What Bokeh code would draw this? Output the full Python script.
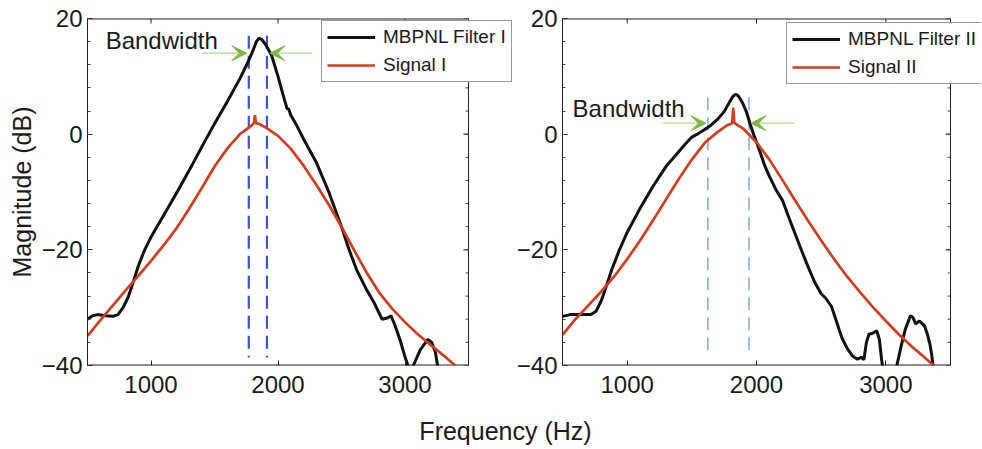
from bokeh.plotting import figure
from bokeh.layouts import column, row
from bokeh.models import Range1d, FixedTicker, Arrow, VeeHead, Label
from bokeh.embed import file_html
from bokeh.resources import INLINE

# ---------------- data ----------------
x_ticks = [1000, 2000, 3000]
y_ticks = [-40, -20, 0, 20]
y_minor = list(range(-40, 21, 4))
y_tick_labels = {-40: "\u221240", -20: "\u221220", 0: "0", 20: "20"}
x_lim = (500, 3500)
y_lim = (-40, 20)

# Left panel: MBPNL Filter I / Signal I
f1_freq = [500, 540, 580, 640, 700, 740, 780, 820, 860, 900, 950, 1000, 1100,
           1200, 1300, 1400, 1500, 1600, 1700, 1760, 1800, 1830, 1850, 1870,
           1900, 1950, 2000, 2040, 2070, 2085, 2100, 2150, 2200, 2300, 2400,
           2500, 2560, 2620, 2700, 2760, 2820, 2860, 2890, 2920, 2960, 3000,
           3030, 3060, 3120, 3180, 3210, 3240, 3260, 3280]
f1_mag = [-32.0, -31.4, -31.2, -31.4, -31.5, -31.2, -30.0, -28.2, -25.6, -22.8,
          -20.0, -17.8, -14.0, -10.2, -6.3, -2.2, 1.8, 5.6, 9.6, 12.3, 14.3,
          16.0, 16.6, 16.4, 15.6, 13.6, 10.0, 6.8, 4.5, 4.3, 3.3, 1.4, -0.8,
          -4.8, -10.0, -16.0, -20.0, -23.5, -27.0, -29.3, -32.0, -31.8, -31.4,
          -33.0, -35.5, -38.5, -40.5, -40.3, -37.3, -35.5, -36.0, -37.8, -40.5,
          -42.0]

s1_freq = [500, 600, 700, 800, 900, 1000, 1100, 1200, 1300, 1400, 1500, 1600,
           1700, 1780, 1810, 1818, 1826, 1850, 1900, 2000, 2100, 2200, 2300,
           2400, 2500, 2600, 2700, 2800, 2900, 3000, 3100, 3200, 3300, 3400]
s1_mag = [-34.9, -32.2, -29.6, -27.0, -24.5, -21.9, -19.2, -16.3, -12.9, -9.3,
          -5.6, -2.5, 0.0, 1.3, 1.9, 3.3, 1.9, 1.8, 1.2, -0.3, -2.5, -5.4, -8.7,
          -12.2, -16.0, -20.1, -24.0, -27.5, -30.2, -32.5, -34.6, -36.4, -38.2,
          -40.1]

# Right panel: MBPNL Filter II / Signal II
f2_freq = [500, 560, 640, 720, 760, 800, 840, 880, 940, 1000, 1100, 1200, 1300,
           1400, 1450, 1500, 1550, 1600, 1650, 1700, 1750, 1790, 1820, 1840,
           1860, 1890, 1920, 1950, 1980, 2020, 2060, 2080, 2100, 2150, 2200,
           2250, 2300, 2350, 2400, 2450, 2500, 2540, 2580, 2620, 2660, 2700,
           2740, 2780, 2810, 2830, 2850, 2870, 2900, 2930, 2950, 2970, 2990,
           3070, 3090, 3120, 3150, 3190, 3210, 3230, 3260, 3300, 3320, 3340,
           3355, 3370]
f2_mag = [-31.5, -31.2, -31.2, -31.2, -30.6, -28.8, -26.2, -23.5, -20.0, -17.0,
          -12.8, -9.0, -5.6, -3.0, -1.7, -0.5, 0.1, 0.8, 1.6, 2.6, 3.9, 5.5,
          6.6, 6.9, 6.6, 5.5, 4.0, 1.8, -0.2, -2.6, -5.2, -6.3, -7.3, -9.6,
          -11.4, -14.4, -17.3, -20.2, -23.0, -25.6, -27.6, -28.5, -29.8, -32.5,
          -35.2, -37.0, -38.3, -38.9, -38.6, -39.0, -36.0, -34.6, -34.4, -34.0,
          -35.5, -39.5, -42.0, -42.0, -39.5, -36.5, -33.8, -31.4, -31.7, -32.8,
          -32.3, -33.2, -34.5, -36.2, -38.2, -41.0]

s2_freq = [500, 600, 700, 800, 900, 1000, 1100, 1200, 1300, 1400, 1500, 1600,
           1700, 1770, 1812, 1820, 1828, 1850, 1900, 2000, 2100, 2200, 2300,
           2400, 2500, 2600, 2700, 2800, 2900, 3000, 3100, 3200, 3300, 3370]
s2_mag = [-34.7, -32.0, -29.6, -27.2, -24.6, -21.6, -18.4, -14.9, -11.3, -7.7,
          -4.4, -1.5, 0.4, 1.5, 1.9, 4.6, 2.0, 1.6, 0.9, -1.4, -4.4, -7.9,
          -11.5, -15.0, -18.4, -21.6, -24.6, -27.3, -29.9, -32.3, -34.6, -36.7,
          -38.6, -40.0]

# bandwidth markers
bw1_edges = [1770, 1913]
bw1_span = [17.0, -38.6]
bw1_arrow_level = 14.0
bw1_arrow_from = [1397, 2270]
bw1_arrow_tip = [1754, 1937]
bw1_text = (643, 16.2)

bw2_edges = [1624, 1942]
bw2_span = [6.4, -37.8]
bw2_arrow_level = 1.9
bw2_arrow_from = [1275, 2291]
bw2_arrow_tip = [1609, 1957]
bw2_text = (578, 4.5)

FONT = "Liberation Sans"
BLACK = "#111111"
RED = "#d43c1e"
TXT = "#1a1a1a"
EDGE = "#222222"


def make_panel(width, height, mb_left, mb_top, mb_bottom, box_w, box_h,
               f_freq, f_mag, s_freq, s_mag, f_label, s_label,
               edges, span, dash_color, dash_width, arrow_level, arrow_from,
               arrow_tip, text_pos, legend_loc, ylabel=None):
    # the frame reaches the right edge of the figure so that the legend
    # may overhang the axes box, as in the original; the box itself is
    # the x_lim / y_lim rectangle, box_w pixels wide.
    frame_w = width - mb_left
    x_end = x_lim[0] + (x_lim[1] - x_lim[0]) * frame_w / box_w
    px_x = (x_lim[1] - x_lim[0]) / box_w        # Hz per pixel
    px_y = (y_lim[1] - y_lim[0]) / box_h        # dB per pixel

    p = figure(width=width, height=height, x_range=Range1d(x_lim[0], x_end),
               y_range=Range1d(*y_lim), output_backend="svg",
               toolbar_location=None, min_border_left=mb_left,
               min_border_right=0, min_border_top=mb_top,
               min_border_bottom=mb_bottom)
    p.grid.visible = False
    p.outline_line_color = None
    p.background_fill_color = "white"
    p.border_fill_color = "white"

    for ax in (p.xaxis[0], p.yaxis[0]):
        ax.major_label_text_font = FONT
        ax.major_label_text_font_size = "24px"
        ax.major_label_text_color = TXT
        ax.major_tick_line_color = EDGE
        ax.major_tick_in = 5
        ax.major_tick_out = 0
        ax.minor_tick_out = 0
    p.xaxis[0].axis_line_color = None
    p.yaxis[0].axis_line_color = EDGE
    p.xaxis[0].ticker = FixedTicker(ticks=x_ticks)
    p.xaxis[0].major_label_standoff = 10
    p.yaxis[0].ticker = FixedTicker(ticks=y_ticks, minor_ticks=y_minor)
    p.yaxis[0].minor_tick_in = 3
    p.yaxis[0].minor_tick_line_color = "#444444"
    p.yaxis[0].major_label_overrides = y_tick_labels
    p.yaxis[0].major_label_standoff = 5
    if ylabel:
        p.yaxis[0].axis_label = ylabel
        p.yaxis[0].axis_label_text_font = FONT
        p.yaxis[0].axis_label_text_font_size = "25px"
        p.yaxis[0].axis_label_text_font_style = "normal"
        p.yaxis[0].axis_label_text_color = TXT
        p.yaxis[0].axis_label_standoff = 3

    # axes box: top, bottom (on the frame edge) and right side
    p.segment(x0=[x_lim[0], x_lim[0]], y0=[y_lim[1], y_lim[0]],
              x1=[x_lim[1], x_lim[1]], y1=[y_lim[1], y_lim[0]],
              line_color=EDGE, line_width=2)
    p.segment(x0=[x_lim[1]], y0=[y_lim[0]], x1=[x_lim[1]], y1=[y_lim[1]],
              line_color=EDGE, line_width=1)
    # mirrored ticks on top and right
    p.segment(x0=x_ticks, y0=[y_lim[1]] * len(x_ticks), x1=x_ticks,
              y1=[y_lim[1] - 5 * px_y] * len(x_ticks), line_color=EDGE,
              line_width=1)
    p.segment(x0=[x_lim[1]] * len(y_ticks), y0=y_ticks,
              x1=[x_lim[1] - 5 * px_x] * len(y_ticks), y1=y_ticks,
              line_color=EDGE, line_width=1)
    p.segment(x0=[x_lim[1]] * len(y_minor), y0=y_minor,
              x1=[x_lim[1] - 3 * px_x] * len(y_minor), y1=y_minor,
              line_color="#444444", line_width=1)

    # bandwidth dashed lines
    p.segment(x0=edges, y0=[span[0]] * 2, x1=edges, y1=[span[1]] * 2,
              line_color=dash_color, line_width=dash_width, line_dash="13 7")

    p.line(f_freq, f_mag, line_color=BLACK, line_width=3,
           legend_label=f_label)
    p.line(s_freq, s_mag, line_color=RED, line_width=2.7,
           legend_label=s_label)

    for a0, a1 in zip(arrow_from, arrow_tip):
        p.add_layout(Arrow(x_start=a0, y_start=arrow_level, x_end=a1,
                           y_end=arrow_level, line_color="#a9dc86",
                           line_width=1.2,
                           end=VeeHead(size=15, fill_color="#7db843",
                                       line_color="#7db843", line_width=1)))

    p.add_layout(Label(x=text_pos[0], y=text_pos[1], text="Bandwidth",
                       text_font=FONT, text_font_size="24px",
                       text_color=TXT, text_baseline="middle",
                       text_align="left"))

    lg = p.legend[0]
    lg.location = legend_loc
    lg.label_text_font = FONT
    lg.label_text_font_size = "19px"
    lg.label_text_color = TXT
    lg.glyph_width = 48
    lg.glyph_height = 22
    lg.label_height = 22
    lg.label_standoff = 8
    lg.padding = 5
    lg.spacing = 6
    lg.margin = 0
    lg.border_line_color = "#333333"
    lg.border_line_width = 1
    lg.background_fill_alpha = 1
    return p


left = make_panel(513, 404, 87, 15, 39, 381, 350,
                  f1_freq, f1_mag, s1_freq, s1_mag,
                  "MBPNL Filter I", "Signal I",
                  bw1_edges, bw1_span, "#3a55d6", 2.2,
                  bw1_arrow_level, bw1_arrow_from, bw1_arrow_tip, bw1_text,
                  (234, 283), ylabel="Magnitude (dB)")

right = make_panel(468, 404, 49, 18, 38, 388, 348,
                   f2_freq, f2_mag, s2_freq, s2_mag,
                   "MBPNL Filter II", "Signal II",
                   bw2_edges, bw2_span, "#7d9fdc", 1.4,
                   bw2_arrow_level, bw2_arrow_from, bw2_arrow_tip, bw2_text,
                   (224, 281))

xlab = figure(width=981, height=44, x_range=Range1d(0, 981),
              y_range=Range1d(0, 44), output_backend="svg",
              toolbar_location=None, x_axis_type=None, y_axis_type=None,
              min_border=0)
xlab.grid.visible = False
xlab.outline_line_color = None
xlab.add_layout(Label(x=505, y=18, text="Frequency (Hz)", text_font=FONT,
                      text_font_size="25px", text_color=TXT,
                      text_align="center", text_baseline="alphabetic"))

layout = column(row(left, right), xlab)
open("out.html", "w").write(file_html(layout, INLINE))
